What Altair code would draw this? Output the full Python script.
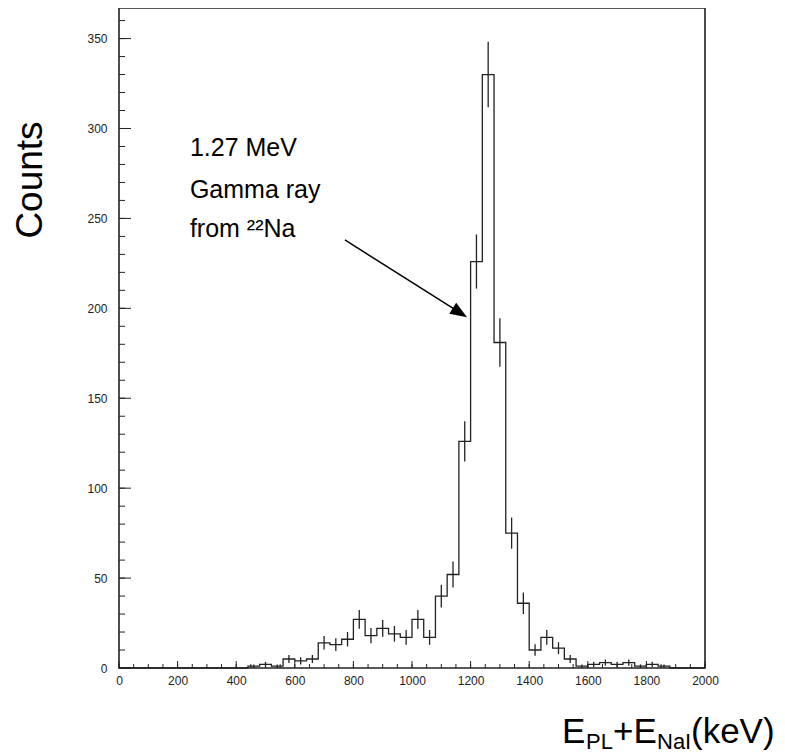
import math
import altair as alt
import pandas as pd

# ---- data ----
bin_width = 40
bin_low = list(range(0, 2000, bin_width))
counts = [0] * 11 + [1, 2, 1, 5, 4, 5, 14, 13, 16, 27, 18, 22, 19, 17, 27, 17, 40, 52,
                     126, 226, 330, 181, 75, 36, 10, 17, 11, 5, 1, 2, 3, 2, 3, 1, 2, 1, 0, 0, 0]

x_labels = list(range(0, 2001, 200))
x_minor = list(range(0, 2001, 50))
y_labels = list(range(0, 351, 50))
y_minor = list(range(0, 361, 10))

ann_text = ["1.27 MeV", "Gamma ray", "from \u00b2\u00b2Na"]
ann_x = [242, 242, 242]
ann_y = [289, 266, 244]
arrow_start = (771, 238)
arrow_end = (1150, 199)
arrow_tip = (1188, 195)

W, H = 586, 660
XMAX, YMAX = 2000, 367
INK = "#222222"

# ---- tables ----
step_df = pd.DataFrame({"x": bin_low + [XMAX], "y": counts + [counts[-1]]})
err_df = pd.DataFrame([
    {"x": lo + bin_width / 2, "lo": c - math.sqrt(c), "hi": c + math.sqrt(c)}
    for lo, c in zip(bin_low, counts) if c > 0
])

xs = alt.Scale(domain=[0, XMAX], nice=False, zero=False)
ys = alt.Scale(domain=[0, YMAX], nice=False, zero=False)

axis_style = dict(ticks=False, domain=False, grid=False, title=None, format="d",
                  labelFlush=False, labelOverlap=False,
                  labelFont="Liberation Sans", labelFontSize=12, labelColor=INK)

step = alt.Chart(step_df).mark_line(interpolate="step-after", color=INK, strokeWidth=1.3).encode(
    x=alt.X("x:Q", scale=xs, axis=alt.Axis(values=x_labels, labelPadding=7, **axis_style)),
    y=alt.Y("y:Q", scale=ys, axis=alt.Axis(values=y_labels, labelPadding=12, **axis_style)),
)

err = alt.Chart(err_df).mark_rule(color=INK, strokeWidth=1.3).encode(
    x=alt.X("x:Q", scale=xs), y=alt.Y("lo:Q", scale=ys), y2="hi:Q"
)

xmaj = alt.Chart(pd.DataFrame({"v": x_labels})).mark_rule(color=INK, strokeWidth=1).encode(
    x=alt.X("v:Q", scale=xs), y=alt.value(H), y2=alt.value(H - 7))
xmin = alt.Chart(pd.DataFrame({"v": x_minor})).mark_rule(color=INK, strokeWidth=1).encode(
    x=alt.X("v:Q", scale=xs), y=alt.value(H), y2=alt.value(H - 4))
ymaj = alt.Chart(pd.DataFrame({"v": y_labels})).mark_rule(color=INK, strokeWidth=1).encode(
    y=alt.Y("v:Q", scale=ys), x=alt.value(0), x2=alt.value(12))
ymin = alt.Chart(pd.DataFrame({"v": y_minor})).mark_rule(color=INK, strokeWidth=1).encode(
    y=alt.Y("v:Q", scale=ys), x=alt.value(0), x2=alt.value(6))

ann = alt.Chart(pd.DataFrame({"t": ann_text, "x": ann_x, "y": ann_y})).mark_text(
    align="left", baseline="middle", font="Liberation Sans", fontSize=25, color="black"
).encode(x=alt.X("x:Q", scale=xs), y=alt.Y("y:Q", scale=ys), text="t:N")

arrow_line = alt.Chart(pd.DataFrame({"x": [arrow_start[0]], "y": [arrow_start[1]],
                                     "x2": [arrow_end[0]], "y2": [arrow_end[1]]})).mark_rule(
    color="black", strokeWidth=1.5).encode(
    x=alt.X("x:Q", scale=xs), y=alt.Y("y:Q", scale=ys), x2="x2:Q", y2="y2:Q")

ang = math.degrees(math.atan2((arrow_start[1] - arrow_tip[1]) * H / YMAX,
                              (arrow_tip[0] - arrow_start[0]) * W / XMAX))
arrow_head = alt.Chart(pd.DataFrame({"x": [arrow_tip[0]], "y": [arrow_tip[1]]})).mark_point(
    shape="M0,0L-1,-0.38L-1,0.38Z", filled=True, color="black", opacity=1,
    size=(2 * 17) ** 2, angle=ang).encode(x=alt.X("x:Q", scale=xs), y=alt.Y("y:Q", scale=ys))

# plot frame
frame = alt.Chart(pd.DataFrame({"a": [0]})).mark_rect(
    fill=None, stroke=INK, strokeWidth=1.6).encode(
    x=alt.value(0), x2=alt.value(W), y=alt.value(0), y2=alt.value(H))

# axis titles
ytitle = alt.Chart(pd.DataFrame({"t": ["Counts"]})).mark_text(
    angle=270, align="center", baseline="middle", font="Liberation Sans", fontSize=37, color="black"
).encode(x=alt.value(-88), y=alt.value(172), text="t:N")

title_parts = ["E", "PL", "+E", "NaI", "(keV)"]
title_sub = [False, True, False, True, False]
title_x = [443, 467, 494, 538, 572]
title_df = pd.DataFrame({"t": title_parts, "sub": title_sub, "px": title_x})
main_txt = alt.Chart(title_df[~title_df["sub"]]).mark_text(
    align="left", baseline="alphabetic", font="Liberation Sans", fontSize=35, color="black"
).encode(x=alt.X("px:Q", scale=None), y=alt.value(735), text="t:N")
sub_txt = alt.Chart(title_df[title_df["sub"]]).mark_text(
    align="left", baseline="alphabetic", font="Liberation Sans", fontSize=22, color="black"
).encode(x=alt.X("px:Q", scale=None), y=alt.value(741), text="t:N")

chart = alt.layer(frame, step, err, xmaj, xmin, ymaj, ymin, arrow_line, arrow_head, ann,
                  ytitle, main_txt, sub_txt).properties(
    width=W, height=H,
    autosize=alt.AutoSizeParams(type="none"),
    padding={"left": 111, "top": 0, "right": 72, "bottom": 87},
    background="white",
).configure_view(stroke=None)

chart.save("out.html", embed_options={"renderer": "svg", "actions": False})
